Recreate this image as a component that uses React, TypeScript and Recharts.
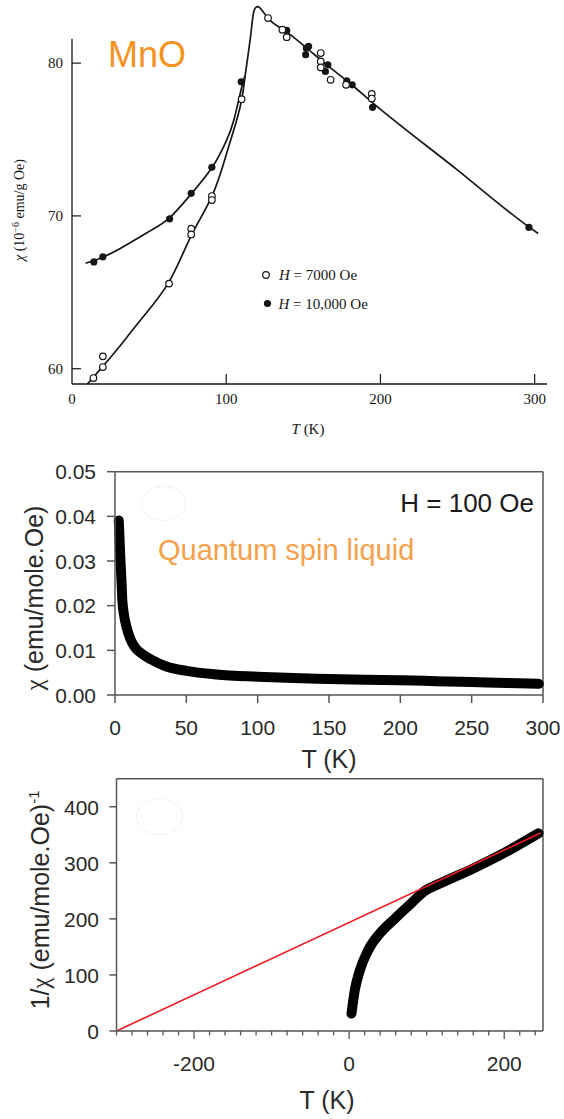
import React from "react";
import { ComposedChart, Line, Scatter, XAxis, YAxis, ReferenceLine } from "recharts";

// ---------- top panel: MnO, chi (1e-6 emu/g Oe) vs T (K) ----------
const open7000T = [13.9, 20.0, 20.0, 62.9, 77.3, 77.3, 90.7, 90.7, 110.0, 127.1, 136.4, 139.2, 161.3, 161.3, 161.3, 167.7, 177.7, 194.4, 194.4];
const open7000Chi = [59.39, 60.11, 60.81, 65.57, 69.16, 68.79, 71.3, 71.04, 77.64, 82.95, 82.19, 81.7, 80.66, 80.11, 79.72, 78.91, 78.58, 77.99, 77.68];
const filled10kT = [14.2, 20.0, 63.3, 77.3, 90.7, 109.7, 139.2, 152.0, 153.4, 151.5, 165.9, 164.3, 178.2, 181.7, 194.9, 296.3];
const filled10kChi = [66.99, 67.32, 69.81, 71.48, 73.18, 78.78, 82.14, 80.98, 81.09, 80.55, 79.89, 79.45, 78.84, 78.58, 77.11, 69.25];

// hand-drawn curves through the points
const curve7000T = [10, 20, 30, 45, 63, 77, 91, 100, 106, 110, 112.3];
const curve7000Chi = [59.0, 60.15, 61.35, 63.25, 65.7, 68.65, 71.35, 74.0, 76.0, 77.6, 79.2];
const curve10kT = [8.8, 20, 31, 42, 52, 63, 77, 91, 100, 105, 110, 112.3];
const curve10kChi = [66.9, 67.3, 67.85, 68.5, 69.1, 69.85, 71.4, 73.2, 74.9, 76.3, 78.4, 79.2];
const curveTopT = [112.3, 115.6, 117.7, 119.2, 120.5, 122, 124, 127, 140, 152, 165, 180, 195, 250, 296, 302.3];
const curveTopChi = [79.2, 81.6, 83.3, 83.65, 83.7, 83.6, 83.35, 82.95, 82.0, 81.0, 79.9, 78.7, 77.4, 73.0, 69.3, 68.85];

const mnoTicksX = [0, 100, 200, 300];
const mnoTicksY = [60, 70, 80];

// ---------- middle panel: chi (emu/mole.Oe) vs T ----------
const chiT = [2.6, 2.9, 3.3, 3.7, 4.2, 4.7, 5.1, 6.3, 8.0, 10.8, 14.4, 19, 25, 36, 50, 71, 100, 125, 150, 175, 200, 225, 250, 275, 297];
const chiVal = [0.0391, 0.0372, 0.034, 0.031, 0.0278, 0.0245, 0.0214, 0.018, 0.0153, 0.0125, 0.0105, 0.0092, 0.008, 0.0064, 0.0054, 0.0046, 0.0041, 0.0038, 0.0036, 0.0034, 0.0033, 0.0031, 0.0029, 0.0027, 0.0025];
const chiTicksX = [0, 50, 100, 150, 200, 250, 300];
const chiTicksY = [0, 0.01, 0.02, 0.03, 0.04, 0.05];

// ---------- bottom panel: 1/chi vs T ----------
const invT = [3.0, 7.3, 13.8, 24.5, 39.6, 59, 78.3, 97.7, 117, 160, 203, 244];
const invVal = [31, 72.7, 108, 144, 174, 200.5, 225.5, 250, 263, 290, 320, 352.5];
const fitT = [-300, 247];
const fitVal = [0, 353];
const invTicksX = [-300, -280, -260, -240, -220, -200, -180, -160, -140, -120, -100, -80, -60, -40, -20, 0, 20, 40, 60, 80, 100, 120, 140, 160, 180, 200, 220, 240];
const invLabelsX = [-200, 0, 200];
const invTicksY = [0, 100, 200, 300, 400];

const pts = (xs: number[], ys: number[], key: string) => xs.map((T, i) => ({ T, [key]: ys[i] }));

const open7000 = pts(open7000T, open7000Chi, "chi");
const filled10k = pts(filled10kT, filled10kChi, "chi");
const curve7000 = pts(curve7000T, curve7000Chi, "chi");
const curve10k = pts(curve10kT, curve10kChi, "chi");
const curveTop = pts(curveTopT, curveTopChi, "chi");
const chiPts = pts(chiT, chiVal, "chi");
const invPts = pts(invT, invVal, "inv");
const fitPts = pts(fitT, fitVal, "inv");

const serif = '"Liberation Serif", "DejaVu Serif", serif';
const sans = '"Liberation Sans", Arial, sans-serif';
const ink = "#161616";
const frame = "#555";
const label = "#2a2a2a";

const openDot = (p: any) => <circle cx={p.cx} cy={p.cy} r={3.3} fill="#fff" stroke={ink} strokeWidth={1.2} />;
const filledDot = (p: any) => <circle cx={p.cx} cy={p.cy} r={3.6} fill={ink} />;

const SerifXTick = (p: any) => (
  <g>
    {p.payload.value !== 0 && <line x1={p.x} x2={p.x} y1={p.y - 15} y2={p.y - 25} stroke={ink} strokeWidth={1.2} />}
    <text x={p.x} y={p.y} dy="0.33em" textAnchor="middle" fontFamily={serif} fontSize={15} fill={ink}>
      {p.payload.value}
    </text>
  </g>
);

const SerifYTick = (p: any) => (
  <g>
    <line x1={p.x + 9} x2={p.x + 18} y1={p.y} y2={p.y} stroke={ink} strokeWidth={1.2} />
    <text x={p.x} y={p.y} dy="0.33em" textAnchor="end" fontFamily={serif} fontSize={15} fill={ink}>
      {p.payload.value}
    </text>
  </g>
);

const sansTick = (fmt: (v: number) => string) => (p: any) => (
  <text x={p.x} y={p.y} dy="0.37em" textAnchor={p.textAnchor} fontFamily={sans} fontSize={21} fill={label}>
    {fmt(p.payload.value)}
  </text>
);

const InvXTick = (p: any) => {
  const major = invLabelsX.includes(p.payload.value);
  const axisY = p.y - 32.3;
  return (
    <g>
      <line x1={p.x} x2={p.x} y1={axisY} y2={axisY + (major ? 8 : 4.5)} stroke={frame} strokeWidth={1.3} />
      {major && (
        <text x={p.x} y={p.y} dy="0.37em" textAnchor="middle" fontFamily={sans} fontSize={21} fill={label}>
          {p.payload.value}
        </text>
      )}
    </g>
  );
};

function MnOChart() {
  return (
    <ComposedChart width={564} height={440} margin={{ top: 2, right: 17, bottom: 0, left: 0 }}>
      <XAxis dataKey="T" type="number" domain={[0, 308]} ticks={mnoTicksX} allowDataOverflow height={56}
        tickSize={0} tickMargin={15} tickLine={false} axisLine={{ stroke: ink, strokeWidth: 1.3 }} tick={SerifXTick} />
      <YAxis dataKey="chi" type="number" domain={[59, 84]} ticks={mnoTicksY} allowDataOverflow width={72}
        tickSize={0} tickMargin={9} tickLine={false} axisLine={false} tick={SerifYTick} />
      <ReferenceLine segment={[{ x: 0, y: 59 }, { x: 0, y: 81.6 }]} stroke={ink} strokeWidth={1.3} />
      <Line data={curve7000} dataKey="chi" type="natural" stroke={ink} strokeWidth={1.7} dot={false} isAnimationActive={false} />
      <Line data={curve10k} dataKey="chi" type="natural" stroke={ink} strokeWidth={1.7} dot={false} isAnimationActive={false} />
      <Line data={curveTop} dataKey="chi" type="monotone" stroke={ink} strokeWidth={1.7} dot={false} isAnimationActive={false} />
      <Scatter data={filled10k} dataKey="chi" shape={filledDot} isAnimationActive={false} />
      <Scatter data={open7000} dataKey="chi" shape={openDot} isAnimationActive={false} />
    </ComposedChart>
  );
}

function ChiChart() {
  return (
    <ComposedChart width={564} height={340} margin={{ top: 31.7, right: 21, bottom: 0, left: 0 }}>
      <XAxis dataKey="T" type="number" domain={[0, 300]} ticks={chiTicksX} height={85}
        tickSize={8} tickMargin={24.5} axisLine={{ stroke: frame, strokeWidth: 1.5 }} tickLine={{ stroke: frame, strokeWidth: 1.5 }}
        tick={sansTick((v) => String(v))} />
      <YAxis dataKey="chi" type="number" domain={[0, 0.05]} ticks={chiTicksY} width={115}
        tickSize={8} tickMargin={11} axisLine={{ stroke: frame, strokeWidth: 1.5 }} tickLine={{ stroke: frame, strokeWidth: 1.5 }}
        tick={sansTick((v) => v.toFixed(2))} />
      <ReferenceLine y={0.05} stroke={frame} strokeWidth={1.5} />
      <ReferenceLine x={300} stroke={frame} strokeWidth={1.5} />
      <Line data={chiPts} dataKey="chi" type="monotone" stroke="#000" strokeWidth={10} strokeLinecap="round" strokeLinejoin="round" dot={false} isAnimationActive={false} />
    </ComposedChart>
  );
}

function InverseChart() {
  return (
    <ComposedChart width={564} height={359} margin={{ top: 18.7, right: 21, bottom: 0, left: 0 }}>
      <XAxis dataKey="T" type="number" domain={[-300, 250]} ticks={invTicksX} interval={0} height={88}
        tickSize={0} tickMargin={32.3} tickLine={false} axisLine={{ stroke: frame, strokeWidth: 1.5 }} tick={InvXTick} />
      <YAxis dataKey="inv" type="number" domain={[0, 450]} ticks={invTicksY} width={116.5}
        tickSize={7} tickMargin={10.5} axisLine={{ stroke: frame, strokeWidth: 1.5 }} tickLine={{ stroke: frame, strokeWidth: 1.5 }}
        tick={sansTick((v) => String(v))} />
      <ReferenceLine y={450} stroke={frame} strokeWidth={1.5} />
      <ReferenceLine x={250} stroke={frame} strokeWidth={1.5} />
      <Line data={invPts} dataKey="inv" type="monotone" stroke="#000" strokeWidth={10} strokeLinecap="round" strokeLinejoin="round" dot={false} isAnimationActive={false} />
      <Line data={fitPts} dataKey="inv" type="linear" stroke="#ec1c24" strokeWidth={1.6} dot={false} isAnimationActive={false} />
    </ComposedChart>
  );
}

export default function App() {
  return (
    <div style={{ position: "absolute", left: 0, top: 0, width: 564, height: 1119, background: "#fff", overflow: "hidden" }}>
      <div style={{ position: "absolute", left: 0, top: 0 }}><MnOChart /></div>
      <div style={{ position: "absolute", left: 0, top: 440 }}><ChiChart /></div>
      <div style={{ position: "absolute", left: 0, top: 760 }}><InverseChart /></div>
      <svg width={564} height={1119} style={{ position: "absolute", left: 0, top: 0, pointerEvents: "none" }}>
        {/* top panel text */}
        <text x={108} y={67} fontFamily={sans} fontSize={36} fill="#f7921e">MnO</text>
        <text transform="translate(24 210) rotate(-90)" textAnchor="middle" fontFamily={serif} fontSize={14} fill={ink}>
          <tspan fontStyle="italic">χ</tspan> (10<tspan dy={-5} fontSize={10}>−6</tspan><tspan dy={5}> emu/g Oe)</tspan>
        </text>
        <text x={308} y={434} textAnchor="middle" fontFamily={serif} fontSize={15} fill={ink}>
          <tspan fontStyle="italic">T</tspan> (K)
        </text>
        <circle cx={266} cy={275} r={3.3} fill="#fff" stroke={ink} strokeWidth={1.2} />
        <text x={279} y={280} fontFamily={serif} fontSize={15} fill={ink}>
          <tspan fontStyle="italic">H</tspan> = 7000 Oe
        </text>
        <circle cx={267.5} cy={303.5} r={3.6} fill={ink} />
        <text x={278.5} y={308.5} fontFamily={serif} fontSize={15} fill={ink}>
          <tspan fontStyle="italic">H</tspan> = 10,000 Oe
        </text>

        {/* middle panel text */}
        <ellipse cx={163.5} cy={503.5} rx={22} ry={17} fill="#fff" stroke="#d4d4d4" strokeWidth={1} strokeDasharray="1 2" />
        <text x={534} y={511.5} textAnchor="end" fontFamily={sans} fontSize={26} fill="#1a1a1a">H = 100 Oe</text>
        <text x={158} y={560} fontFamily={sans} fontSize={29} fill="#f6a04a">Quantum spin liquid</text>
        <text transform="translate(43 598) rotate(-90)" textAnchor="middle" fontFamily={sans} fontSize={25} fill={label}>
          <tspan fontFamily={serif}>χ</tspan> (emu/mole.Oe)
        </text>
        <text x={329} y={768} textAnchor="middle" fontFamily={sans} fontSize={25} fill={label}>T (K)</text>

        {/* bottom panel text */}
        <ellipse cx={159.5} cy={816.5} rx={23} ry={18} fill="#fff" stroke="#d4d4d4" strokeWidth={1} strokeDasharray="1 2" />
        <text transform="translate(49 900) rotate(-90)" textAnchor="middle" fontFamily={sans} fontSize={25} fill={label}>
          1/<tspan fontFamily={serif}>χ</tspan> (emu/mole.Oe)<tspan dy={-10} fontSize={15}>-1</tspan>
        </text>
        <text x={327} y={1109} textAnchor="middle" fontFamily={sans} fontSize={25} fill={label}>T (K)</text>
      </svg>
    </div>
  );
}
